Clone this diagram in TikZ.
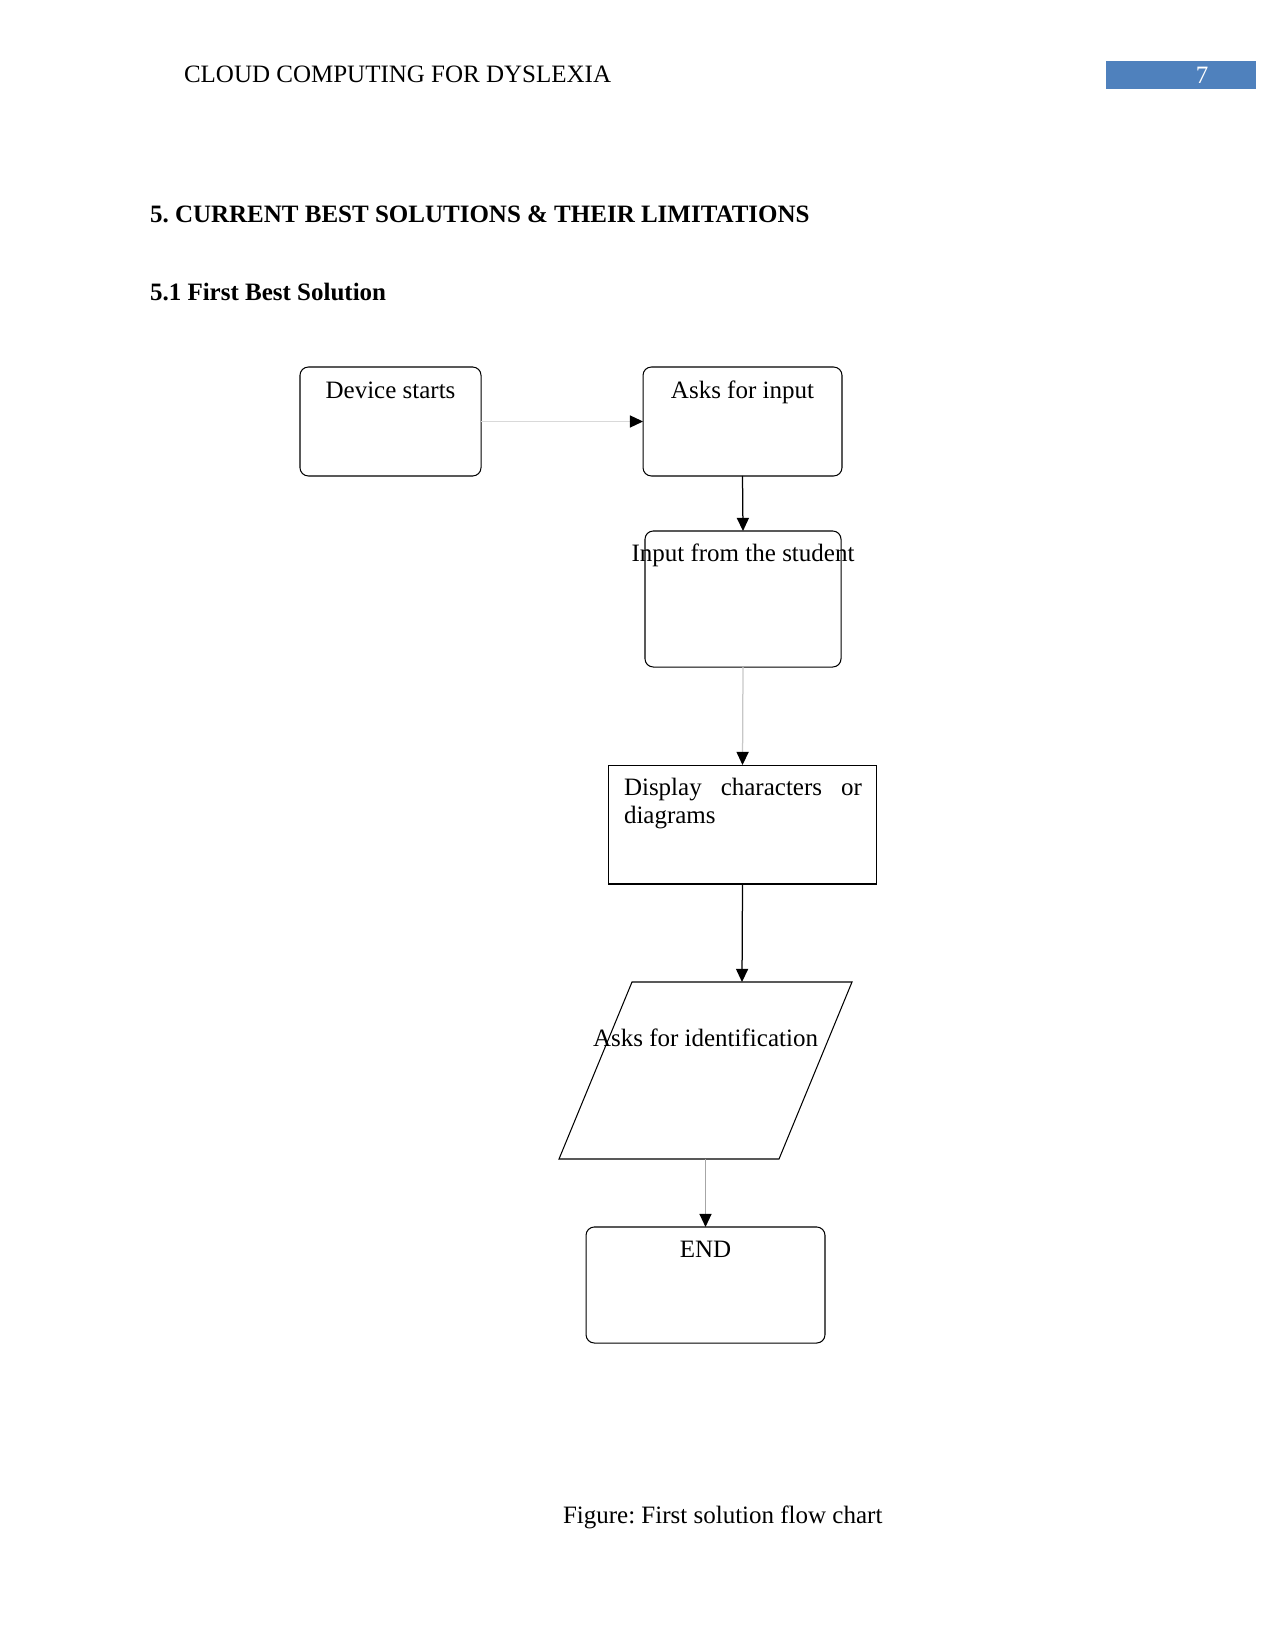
\documentclass[tikz,border=0pt]{standalone}
\usepackage{fontspec}
\setmainfont{Liberation Serif}
\usetikzlibrary{arrows.meta}
\definecolor{hdrblue}{RGB}{79,129,189}
\frenchspacing
\begin{document}
\begin{tikzpicture}[x=0.48pt,y=-0.48pt,
  every node/.style={font=\fontsize{12pt}{14pt}\selectfont, inner sep=0pt, outer sep=0pt},
  rbox/.style={draw=black, line width=0.5pt, rounded corners=4pt},
  sbox/.style={draw=black, line width=0.5pt},
  txt/.style={anchor=base},
  tip/.style={-{Triangle[length=6.3pt,width=5.8pt,color=black]}},
  blk/.style={tip, draw=black, line width=0.6pt},
  gry/.style={tip, line width=0.6pt}
]
\useasboundingbox (0,0) rectangle (1275,1650);
% header
\node[txt, anchor=base west] (hdr) at (184,83) {CLOUD COMPUTING FOR DYSLEXIA};
\node[fill=hdrblue, minimum width=72pt, minimum height=13pt, anchor=north west] (pgbox) at (1106,61.5) {};
\node[txt, text=white] (pgnum) at (1202,83.5) {7};
% headings
\node[txt, anchor=base west, font=\fontsize{12pt}{14pt}\selectfont\bfseries] (h1) at (150,223) {5. CURRENT BEST SOLUTIONS \& THEIR LIMITATIONS};
\node[txt, anchor=base west, font=\fontsize{12pt}{14pt}\selectfont\bfseries] (h2) at (150,301) {5.1 First Best Solution};
% boxes
\node[rbox, minimum width=86.9pt, minimum height=52.3pt] (dev) at (390.5,421.5) {};
\node[rbox, minimum width=95.5pt, minimum height=52.3pt] (ask) at (742.5,421.5) {};
\node[rbox, minimum width=94.1pt, minimum height=65.3pt] (inp) at (743,599) {};
\node[sbox, minimum width=128.2pt, minimum height=57.1pt] (disp) at (742.5,824.5) {};
\node[rbox, minimum width=114.7pt, minimum height=55.7pt] (endb) at (705.5,1285) {};
% parallelogram
\draw[line width=0.5pt] (632,982) -- (852,982) -- (779,1159) -- (559,1159) -- cycle;
\coordinate (partop) at (742,982);
\coordinate (parbot) at (705.5,1159);
% texts
\node[txt] (tdev) at (390.5,399) {Device starts};
\node[txt] (task) at (742.5,399) {Asks for input};
\node[txt] (tinp) at (743,561.5) {Input from the student};
\node[anchor=base west] (tdisp) at (624,795) {\parbox[t]{114.2pt}{\baselineskip=13.9pt Display\hfill characters\hfill or\\ diagrams}};
\node[txt] (tpar) at (705.5,1046) {Asks for identification};
\node[txt] (tend) at (705.5,1257) {END};
% caption
\node[txt, anchor=base west] (cap) at (563,1523) {Figure: First solution flow chart};
% connectors
\draw[gry, draw=black!15] (dev.east) -- (ask.west);
\draw[blk] (ask.south) -- (inp.north);
\draw[gry, draw=black!22] (inp.south) -- (disp.north);
\draw[blk] (disp.south) -- (partop);
\draw[gry, draw=black!35] (parbot) -- (endb.north);
\end{tikzpicture}
\end{document}
